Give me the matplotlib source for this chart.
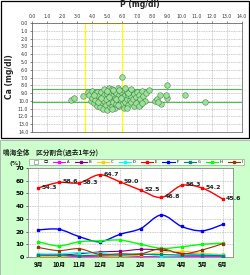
import matplotlib
matplotlib.use("Agg")
import matplotlib.pyplot as plt
import numpy as np
from matplotlib.path import Path
from matplotlib.patches import PathPatch, Rectangle
from matplotlib.lines import Line2D

# ---- scatter data (P vs Ca) ----
p_vals = [2.6, 2.8, 3.4, 3.7, 3.8, 3.9, 4.0, 4.0, 4.1, 4.2, 4.2, 4.3, 4.3, 4.4, 4.5,
          4.5, 4.6, 4.6, 4.7, 4.7, 4.8, 4.8, 4.9, 4.9, 5.0, 5.0, 5.0, 5.1, 5.1, 5.2,
          5.2, 5.2, 5.3, 5.3, 5.3, 5.4, 5.4, 5.5, 5.5, 5.5, 5.6, 5.6, 5.7, 5.7, 5.8,
          5.8, 5.9, 5.9, 6.0, 6.0, 6.0, 6.1, 6.1, 6.1, 6.2, 6.2, 6.3, 6.3, 6.4, 6.4,
          6.5, 6.5, 6.6, 6.6, 6.7, 6.7, 6.8, 6.8, 6.9, 7.0, 7.0, 7.1, 7.2, 7.2, 7.3,
          7.4, 7.5, 7.6, 7.8, 8.2, 8.3, 8.5, 8.6, 8.4, 9.0, 9.0, 8.9, 10.2, 11.5,
          4.4, 4.9, 5.1, 5.4, 5.6, 5.8, 5.9, 6.2, 6.4, 6.9, 4.1, 4.6, 5.3, 5.7, 6.3,
          7.1, 4.8, 6.6, 7.3, 5.0]
ca_vals = [9.9, 9.6, 9.4, 8.8, 9.3, 10.0, 8.7, 9.6, 10.3, 9.0, 9.9, 8.8, 10.6, 9.4, 9.8,
           10.8, 8.9, 10.2, 9.5, 11.0, 9.2, 10.0, 8.6, 10.5, 9.1, 9.8, 11.2, 8.3, 10.3, 9.4,
           10.8, 8.9, 9.9, 10.6, 8.5, 9.2, 10.1, 8.8, 9.6, 10.9, 9.0, 10.4, 8.4, 9.8, 9.3,
           10.7, 8.9, 10.0, 6.9, 9.5, 10.4, 8.6, 9.9, 10.9, 9.2, 10.2, 8.8, 9.7, 9.3, 10.5,
           8.7, 9.9, 9.4, 10.2, 8.9, 9.7, 10.6, 9.1, 9.5, 8.8, 10.1, 9.3, 9.8, 10.5, 8.7,
           9.4, 10.0, 9.0, 8.6, 10.0, 9.7, 9.2, 10.4, 10.2, 7.9, 9.6, 9.3, 9.2, 10.2,
           10.1, 9.7, 9.5, 8.6, 9.8, 8.6, 9.6, 8.4, 9.0, 10.3, 9.2, 9.6, 11.0, 10.5, 10.9,
           10.7, 8.5, 8.5, 10.3, 8.7]
p_range = (3.5, 6.0)
ca_range = (8.5, 10.2)

# ---- line chart data ----
months = ["9月", "10月", "11月", "12月", "1月", "2月", "3月", "4月", "5月", "6月"]
series_names = ["口", "A", "B", "C", "D", "E", "F", "G", "H", "I"]
series_colors = ["#999999", "#ff00ff", "#800080", "#ffcc00", "#00ffff",
                 "#ff0000", "#0000ff", "#008080", "#00ff00", "#993300"]
a_vals = [0.3, 0.3, 0.3, 0.3, 0.3, 0.3, 0.3, 0.3, 0.3, 0.3]
b_vals = [1.5, 1.5, 2.5, 4.0, 4.5, 6.0, 5.5, 3.0, 2.0, 1.5]
c_vals = [0.5, 0.3, 1.5, 1.0, 0.5, 1.5, 3.5, 4.5, 3.0, 2.0]
d_vals = [2.5, 2.5, 3.5, 3.0, 1.5, 2.5, 0.8, 1.0, 2.0, 1.5]
e_vals = [54.3, 58.6, 58.3, 64.7, 59.0, 52.5, 46.8, 56.3, 54.2, 45.6]
f_vals = [21.3, 21.8, 16.0, 12.0, 17.9, 22.4, 33.0, 24.0, 20.6, 25.6]
g_vals = [1.5, 1.5, 1.0, 1.5, 1.5, 2.0, 2.0, 1.5, 1.3, 1.0]
h_vals = [12.0, 8.7, 12.0, 12.7, 13.3, 10.0, 6.8, 8.0, 10.0, 10.8]
i_vals = [7.5, 5.0, 6.5, 2.0, 2.5, 2.5, 6.5, 2.5, 5.5, 10.5]

jp = ["Noto Sans CJK JP", "DejaVu Sans"]

fig = plt.figure(figsize=(2.5, 2.75), dpi=100)
fig.patch.set_facecolor("white")

# panel backgrounds (behind the axes)
fig.patches.append(Rectangle((0.0, 0.0), 1.0, 0.49, transform=fig.transFigure,
                             facecolor="#ccffcc", edgecolor="#aaaaaa", lw=0.6, zorder=-5))
fig.patches.append(Rectangle((0.004, 0.5), 0.99, 0.497, transform=fig.transFigure,
                             facecolor="white", edgecolor="black", lw=0.9, zorder=-5))

# ---- top: scatter ----
ax1 = fig.add_axes([0.128, 0.52, 0.84, 0.396])
ax1.add_patch(Rectangle((p_range[0], 0), p_range[1] - p_range[0], 14,
                        facecolor="none", edgecolor="#ffff00", lw=0.9, zorder=2))
ax1.add_patch(Rectangle((0, ca_range[0]), 14, ca_range[1] - ca_range[0],
                        facecolor="none", edgecolor="#55bb55", lw=0.8, zorder=2))
ax1.scatter(p_vals, ca_vals, s=16, facecolor="#9be09b", edgecolor="#3a7a3a",
            linewidth=0.35, zorder=3)
ax1.set_xlim(0, 14)
ax1.set_ylim(14, 0)
ax1.set_xticks(np.arange(0, 15, 1))
ax1.set_yticks(np.arange(0, 15, 1))
ax1.set_xticklabels([f"{v:.1f}" for v in range(15)])
ax1.set_yticklabels([f"{v:.1f}" for v in range(15)])
ax1.xaxis.tick_top()
ax1.tick_params(labelsize=3.3, length=1.2, width=0.4, pad=1.5, colors="#333333")
ax1.grid(True, linestyle=(0, (1.5, 1.5)), color="#999999", lw=0.4)
for s in ax1.spines.values():
    s.set_linewidth(0.5)
    s.set_color("#555555")
fig.text(0.56, 0.982, "P (mg/dl)", ha="center", va="center", fontsize=5.5,
         fontweight="bold", color="#222222")
fig.text(0.04, 0.72, "Ca (mg/dl)", ha="center", va="center", fontsize=5.5,
         fontweight="bold", rotation=90, color="#222222")

# ---- bottom: line chart ----
ax2 = fig.add_axes([0.112, 0.0655, 0.82, 0.3236])
x = np.arange(len(months))


def smooth_path(xs, ys):
    pts = np.column_stack([xs, ys]).astype(float)
    ext = np.vstack([pts[0], pts, pts[-1]])
    verts = [pts[0]]
    codes = [Path.MOVETO]
    for k in range(len(pts) - 1):
        p0, p1, p2, p3 = ext[k], ext[k + 1], ext[k + 2], ext[k + 3]
        verts += [p1 + (p2 - p0) / 6, p2 - (p3 - p1) / 6, p2]
        codes += [Path.CURVE4] * 3
    return Path(verts, codes)


all_vals = [None, a_vals, b_vals, c_vals, d_vals, e_vals, f_vals, g_vals, h_vals, i_vals]
draw_order = [1, 2, 3, 4, 7, 9, 8, 6, 5]
for idx in draw_order:
    vals = all_vals[idx]
    col = series_colors[idx]
    lw = 1.0 if idx in (5, 6, 8) else 0.8
    ax2.add_patch(PathPatch(smooth_path(x, vals), facecolor="none", edgecolor=col,
                            lw=lw, zorder=3 + idx * 0.1))
    ax2.plot(x, vals, linestyle="none", marker="s", markersize=2, color=col,
             zorder=4 + idx * 0.1)

for xi, v in zip(x, e_vals):
    ax2.annotate(f"{v:.1f}", (xi, v), xytext=(2.5, 0.5), textcoords="offset points",
                 ha="left", va="center", fontsize=4.5, fontweight="bold", color="#222222",
                 zorder=6)

ax2.set_xlim(-0.5, len(months) - 0.5)
ax2.set_ylim(0, 70)
ax2.set_xticks(x)
ax2.set_xticklabels(months, fontfamily=jp, fontweight="bold", fontsize=4.3)
ax2.set_yticks(np.arange(0, 71, 10))
ax2.tick_params(axis="y", labelsize=4.5, length=1.2, width=0.4, pad=1.5)
ax2.tick_params(axis="x", length=0, pad=3)
for lab in ax2.get_yticklabels():
    lab.set_fontweight("bold")
ax2.grid(True, linestyle=(0, (1.5, 1.5)), color="#999999", lw=0.4)
ax2.set_facecolor("white")
for s in ax2.spines.values():
    s.set_linewidth(0.5)
    s.set_color("#777777")

fig.text(0.012, 0.447, "鳴海全体　区分割合(過去1年分)", fontfamily=jp, fontsize=4.8,
         fontweight="bold", ha="left", va="center", color="#222222")
fig.text(0.06, 0.405, "(%)", fontsize=4.5, fontweight="bold", ha="center",
         va="center", color="#222222")

handles = []
for name, col in zip(series_names, series_colors):
    if name == "口":
        handles.append(Line2D([], [], linestyle="none", marker="s", markersize=2.5,
                              markerfacecolor="white", markeredgecolor="#777777",
                              markeredgewidth=0.4, label=name))
    else:
        handles.append(Line2D([], [], color=col, lw=0.8, marker="s", markersize=1.8,
                              label=name))
leg = fig.legend(handles=handles, loc="center", bbox_to_anchor=(0.546, 0.411), ncol=10,
                 prop={"family": jp, "size": 3}, handlelength=2.9, handletextpad=0.4,
                 columnspacing=1.3, borderpad=0.3, frameon=True, fancybox=False)
leg.get_frame().set_edgecolor("#888888")
leg.get_frame().set_linewidth(0.5)

fig.savefig("out.png", dpi=100)
